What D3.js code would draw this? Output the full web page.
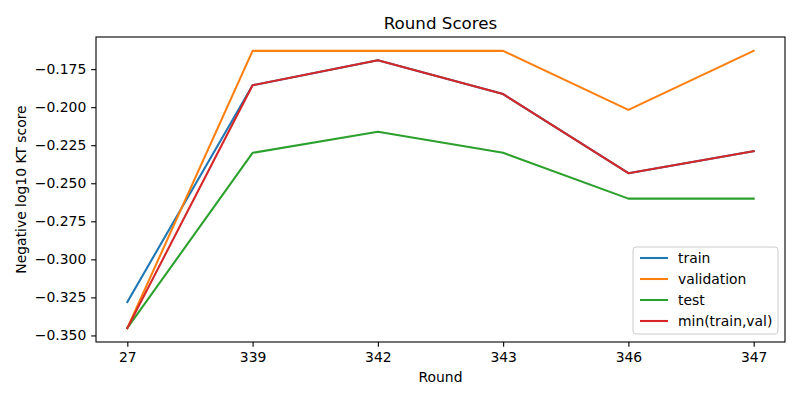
<!DOCTYPE html>
<html>
<head>
<meta charset="utf-8">
<script src="https://cdn.jsdelivr.net/npm/d3@7"></script>
<style>
  body { margin: 0; background: #fff; }
  svg text { font-family: "DejaVu Sans", sans-serif; fill: #000; }
</style>
</head>
<body>
<svg id="chart" width="800" height="400"></svg>
<script>
// data
const rounds = ["27", "339", "342", "343", "346", "347"];
const train = [-0.3280, -0.1856, -0.1691, -0.1914, -0.2434, -0.2289];
const validation = [-0.3452, -0.1630, -0.1630, -0.1630, -0.2018, -0.1630];
const test = [-0.3452, -0.2300, -0.2161, -0.2300, -0.2601, -0.2601];
const minTrainVal = [-0.3452, -0.1856, -0.1691, -0.1914, -0.2434, -0.2289];
const yTicks = [-0.350, -0.325, -0.300, -0.275, -0.250, -0.225, -0.200, -0.175];

const series = [
  { name: "train", values: train, color: "#1f77b4" },
  { name: "validation", values: validation, color: "#ff7f0e" },
  { name: "test", values: test, color: "#2ca02c" },
  { name: "min(train,val)", values: minTrainVal, color: "#d62728" },
];

const svg = d3.select("#chart");
const margin = { top: 37, right: 15, bottom: 58, left: 96 };
const width = 800, height = 400;

// matplotlib style 5% padding on both axes
const x = d3.scaleLinear()
  .domain([-0.25, rounds.length - 1 + 0.25])
  .range([margin.left, width - margin.right]);

const allVals = series.flatMap(s => s.values);
const lo = d3.min(allVals), hi = d3.max(allVals);
const pad = (hi - lo) * 0.05;
const y = d3.scaleLinear()
  .domain([lo - pad, hi + pad])
  .range([height - margin.bottom, margin.top]);

const line = d3.line()
  .x((d, i) => x(i))
  .y(d => y(d));

svg.selectAll("path.series")
  .data(series)
  .join("path")
  .attr("class", "series")
  .attr("d", d => line(d.values))
  .attr("fill", "none")
  .attr("stroke", d => d.color)
  .attr("stroke-width", 2.08)
  .attr("stroke-linejoin", "round")
  .attr("stroke-linecap", "square");

// x-axis
const xAxis = svg.append("g")
  .attr("transform", `translate(0,${height - margin.bottom})`)
  .call(d3.axisBottom(x)
    .tickValues(d3.range(rounds.length))
    .tickFormat(i => rounds[i])
    .tickSize(4.86)
    .tickPadding(4.9));
xAxis.select(".domain").remove();
xAxis.selectAll("line").attr("stroke-width", 1.1);
xAxis.selectAll("text").style("font-size", "13.9px");

// y-axis
const yAxis = svg.append("g")
  .attr("transform", `translate(${margin.left},0)`)
  .call(d3.axisLeft(y)
    .tickValues(yTicks)
    .tickFormat(d => d3.format(".3f")(d).replace("-", "\u2212"))
    .tickSize(4.86)
    .tickPadding(4.9));
yAxis.select(".domain").remove();
yAxis.selectAll("line").attr("stroke-width", 1.1);
yAxis.selectAll("text").style("font-size", "13.9px");

// frame
svg.append("rect")
  .attr("x", margin.left)
  .attr("y", margin.top)
  .attr("width", width - margin.left - margin.right)
  .attr("height", height - margin.top - margin.bottom)
  .attr("fill", "none")
  .attr("stroke", "#000")
  .attr("stroke-width", 1.1);

// title and labels
svg.append("text")
  .attr("x", (margin.left + width - margin.right) / 2)
  .attr("y", 29)
  .attr("text-anchor", "middle")
  .style("font-size", "16.7px")
  .text("Round Scores");

svg.append("text")
  .attr("x", (margin.left + width - margin.right) / 2)
  .attr("y", 382)
  .attr("text-anchor", "middle")
  .style("font-size", "13.9px")
  .text("Round");

svg.append("text")
  .attr("transform", `translate(26,${(margin.top + height - margin.bottom) / 2}) rotate(-90)`)
  .attr("text-anchor", "middle")
  .style("font-size", "13.9px")
  .text("Negative log10 KT score");

// legend
const legend = svg.append("g")
  .attr("transform", "translate(633,247)");

legend.append("rect")
  .attr("width", 145)
  .attr("height", 87)
  .attr("rx", 3)
  .attr("fill", "#fff")
  .attr("fill-opacity", 0.8)
  .attr("stroke", "#ccc")
  .attr("stroke-width", 1);

series.forEach((s, i) => {
  const row = legend.append("g")
    .attr("transform", `translate(0,${11 + i * 21})`);
  row.append("line")
    .attr("x1", 7).attr("x2", 35)
    .attr("stroke", s.color)
    .attr("stroke-width", 2.08);
  row.append("text")
    .attr("x", 45)
    .attr("y", 5)
    .style("font-size", "13.9px")
    .text(s.name);
});
</script>
</body>
</html>
